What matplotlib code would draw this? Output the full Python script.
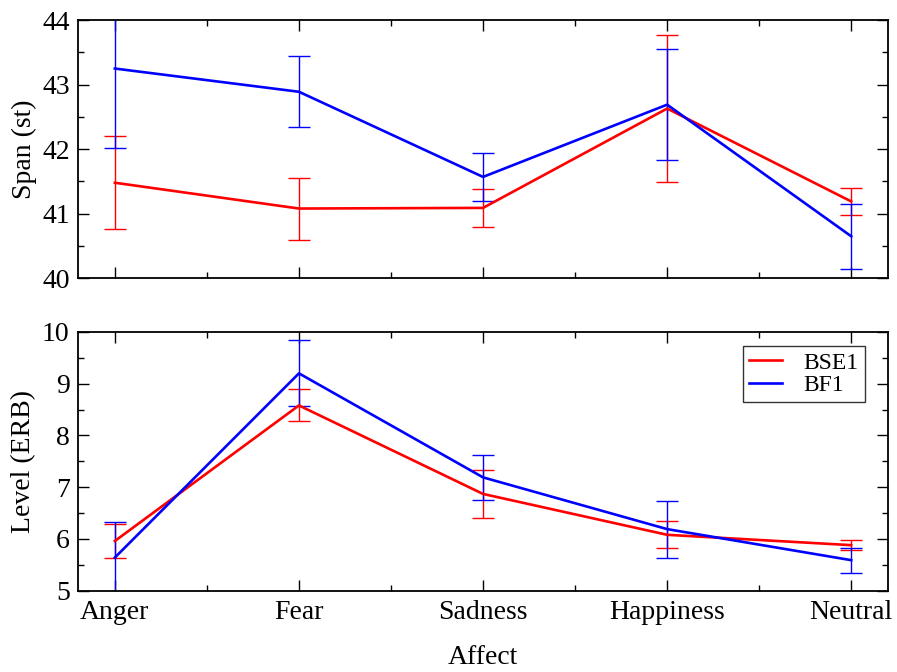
import numpy as np
import matplotlib
matplotlib.use('Agg')
import matplotlib.pyplot as plt
from matplotlib.ticker import MultipleLocator

plt.rcParams['font.family'] = ['Liberation Serif', 'DejaVu Serif']
plt.rcParams['font.size'] = 20

affects = ['Anger', 'Fear', 'Sadness', 'Happiness', 'Neutral']

# span (semitones)
span_bse1 = [41.48, 41.08, 41.09, 42.63, 41.19]
span_bse1_err = [0.72, 0.48, 0.30, 1.14, 0.21]
span_bf1 = [43.25, 42.89, 41.57, 42.69, 40.65]
span_bf1_err = [1.23, 0.55, 0.37, 0.86, 0.50]

# level (ERB)
level_bse1 = [5.96, 8.58, 6.87, 6.08, 5.88]
level_bse1_err = [0.32, 0.31, 0.46, 0.26, 0.10]
level_bf1 = [5.64, 9.20, 7.19, 6.19, 5.59]
level_bf1_err = [0.68, 0.64, 0.44, 0.55, 0.24]

x = np.arange(len(affects))

fig = plt.figure(figsize=(8.97, 6.72), dpi=100)
ax1 = fig.add_axes([0.087, 0.586, 0.903, 0.384])
ax2 = fig.add_axes([0.087, 0.121, 0.903, 0.385])


def draw(ax, y1, e1, y2, e2):
    ax.plot(x, y1, color='#ff0000', lw=1.9, zorder=3, label='BSE1')
    ax.errorbar(x, y1, yerr=e1, fmt='none', ecolor='#ff0000', elinewidth=1.0,
                capsize=8, capthick=1.0, zorder=2)
    ax.plot(x, y2, color='#0000ff', lw=1.9, zorder=4, label='BF1')
    ax.errorbar(x, y2, yerr=e2, fmt='none', ecolor='#0000ff', elinewidth=1.0,
                capsize=8, capthick=1.0, zorder=2.5)
    ax.set_xlim(-0.2, 4.2)
    ax.set_xticks(x)
    ax.xaxis.set_minor_locator(MultipleLocator(0.5))
    ax.yaxis.set_minor_locator(MultipleLocator(0.5))
    ax.tick_params(which='both', direction='in', top=True, right=True,
                   width=1.0, labelsize=20)
    ax.tick_params(which='major', length=8)
    ax.tick_params(which='minor', length=4)
    ax.tick_params(axis='x', pad=7)
    ax.tick_params(axis='y', pad=6)
    for s in ax.spines.values():
        s.set_linewidth(1.3)


draw(ax1, span_bse1, span_bse1_err, span_bf1, span_bf1_err)
ax1.set_ylim(40, 44)
ax1.yaxis.set_major_locator(MultipleLocator(1))
ax1.set_xticklabels([])
ax1.set_ylabel('Span (st)', fontsize=20, labelpad=4)

draw(ax2, level_bse1, level_bse1_err, level_bf1, level_bf1_err)
ax2.set_ylim(5, 10)
ax2.yaxis.set_major_locator(MultipleLocator(1))
ax2.set_xticklabels(affects)
ax2.set_ylabel('Level (ERB)', fontsize=20, labelpad=4)
ax2.set_xlabel('Affect', fontsize=20, labelpad=14)

leg = ax2.legend(loc='upper right', bbox_to_anchor=(0.971, 0.945), frameon=True,
                 fancybox=False, edgecolor='black', fontsize=17,
                 handlelength=1.4, borderpad=0.25, labelspacing=0.05,
                 handletextpad=0.9, borderaxespad=0)
leg.get_frame().set_linewidth(1.0)

fig.savefig('out.png', dpi=100)
